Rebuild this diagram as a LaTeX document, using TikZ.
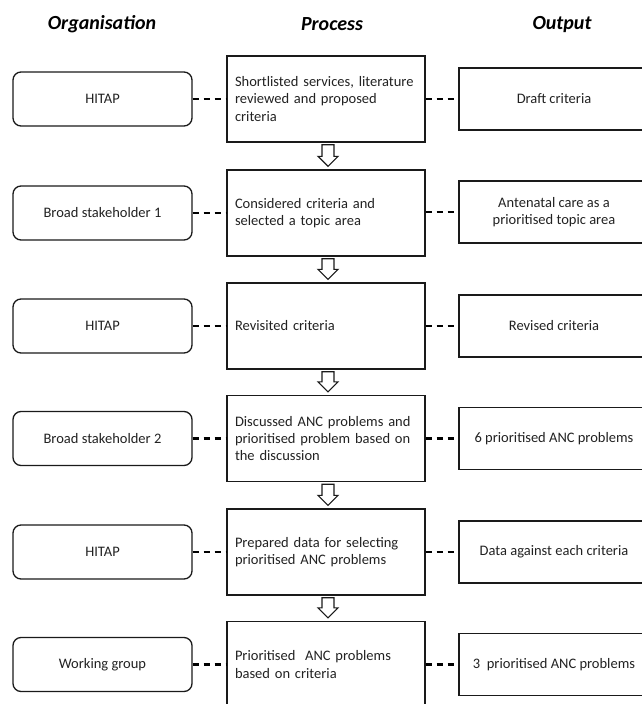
\documentclass[tikz,border=0pt]{standalone}
\usepackage{fontspec}
\setmainfont{Carlito}
\usetikzlibrary{calc}
\definecolor{fcInk}{HTML}{1A1A1A}
\definecolor{fcText}{HTML}{222222}
\tikzset{
  box/.style={draw=fcInk,line width=1.3pt,align=center,text=fcText,
    font=\fontsize{14.5}{17.3}\selectfont,inner sep=0pt,fill=white},
  orgbox/.style={box,rounded corners=8pt,minimum width=179pt,minimum height=54pt},
  procbox/.style={box,align=left,text width=182pt,inner xsep=8pt,minimum height=86pt},
  outbox/.style={box,minimum width=190pt,minimum height=62pt},
  head/.style={font=\fontsize{20}{24}\selectfont\bfseries\itshape,text=black},
  dashlink/.style={draw=black,line width=1.6pt,dash pattern=on 6pt off 5pt},
  dashbold/.style={dashlink,line width=2.8pt},
  hollow/.style={draw=fcInk,line width=1.2pt,fill=white,line join=miter},
}

\begin{document}
\begin{tikzpicture}[x=1pt,y=-1pt]
  \useasboundingbox (0,0) rectangle (642,704);
  \clip (0,0) rectangle (642,704);
  \node[head] (hOrg) at (102,24.5) {Organisation};
  \node[head] (hProc) at (332,24.5) {Process};
  \node[head] (hOut) at (562,24.5) {Output};
  % stages
  \node[orgbox] (org1) at (102.5,99) {HITAP};
  \node[procbox] (proc1) at (326,99) {Shortlisted services, literature\\reviewed and proposed\\criteria};
  \node[outbox] (out1) at (554,99) {Draft criteria};
  \node[orgbox] (org2) at (102.5,213) {Broad stakeholder 1};
  \node[procbox] (proc2) at (326,213) {Considered criteria and\\selected a topic area};
  \node[outbox] (out2) at (554,212) {Antenatal care as a\\prioritised topic area};
  \node[orgbox] (org3) at (102.5,326) {HITAP};
  \node[procbox] (proc3) at (326,326) {Revisited criteria};
  \node[outbox] (out3) at (554,326) {Revised criteria};
  \node[orgbox] (org4) at (102.5,438.5) {Broad stakeholder 2};
  \node[procbox] (proc4) at (326,438.5) {Discussed ANC problems and\\prioritised problem based on\\the discussion};
  \node[outbox] (out4) at (554,438.5) {6 prioritised ANC problems};
  \node[orgbox] (org5) at (102.5,552) {HITAP};
  \node[procbox] (proc5) at (326,552) {Prepared data for selecting\\prioritised ANC problems};
  \node[outbox] (out5) at (554,552) {Data against each criteria};
  \node[orgbox] (org6) at (102.5,664.5) {Working group};
  \node[procbox] (proc6) at (326,664.5) {Prioritised~~ANC problems\\based on criteria};
  \node[outbox] (out6) at (554,664.5) {3~~prioritised ANC problems};
  % links
  \foreach \i/\w in {1/dashlink,2/dashlink,3/dashlink,4/dashbold,5/dashlink,6/dashbold} {
    \draw[\w] (org\i.east) -- (proc\i.west |- org\i.east);
    \draw[\w] (proc\i.east |- out\i.west) -- (out\i.west);
  }
  \foreach \i/\j in {1/2,2/3,3/4,4/5,5/6} {
    \coordinate (top) at ($(proc\i.south)+(2,2)$);
    \coordinate (tip) at ($(proc\j.north)+(2,-3)$);
    \draw[hollow] ($(top)+(-6,0)$) -- ($(tip)+(-6,-10)$) -- ($(tip)+(-10,-10)$) -- (tip)
      -- ($(tip)+(10,-10)$) -- ($(tip)+(6,-10)$) -- ($(top)+(6,0)$) -- cycle;
  }
\end{tikzpicture}
\end{document}
